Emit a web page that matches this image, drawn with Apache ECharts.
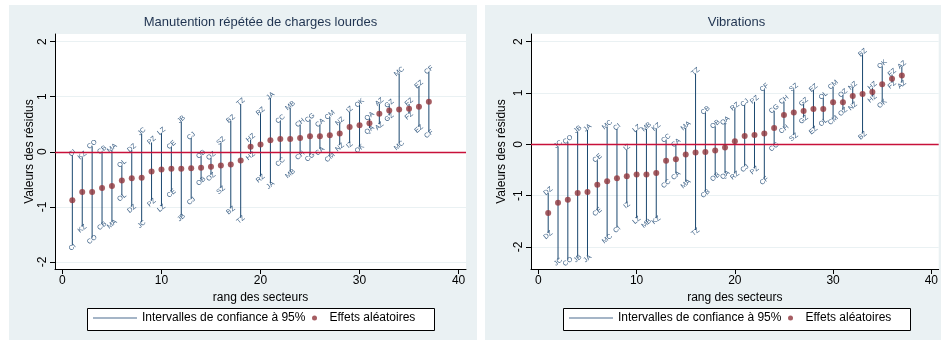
<!DOCTYPE html>
<html>
<head>
<meta charset="utf-8">
<script src="https://cdn.jsdelivr.net/npm/echarts@6/dist/echarts.min.js"></script>
<style>
html, body { margin: 0; padding: 0; background: #fff; }
#chart { width: 941px; height: 341px; }
</style>
</head>
<body>
<div id="chart"></div>
<script>
// rangs des secteurs (axe x)
const rangs = [1, 2, 3, 4, 5, 6, 7, 8, 9, 10, 11, 12, 13, 14, 15, 16, 17, 18, 19, 20,
  21, 22, 23, 24, 25, 26, 27, 28, 29, 30, 31, 32, 33, 34, 35, 36, 37];

// Manutention répétée de charges lourdes
const codesManut = ['CI', 'KZ', 'CO', 'CB', 'MA', 'OL', 'DZ', 'JC', 'PZ', 'LZ', 'CE', 'JB', 'CJ', 'OB', 'OZ', 'SZ', 'BZ', 'TZ', 'HZ', 'RZ',
  'JA', 'CC', 'MB', 'CH', 'CG', 'CA', 'CM', 'NZ', 'IZ', 'OK', 'QA', 'AZ', 'GZ', 'MC', 'FZ', 'EZ', 'CF'];
const effetsManut = [-0.88, -0.73, -0.73, -0.66, -0.62, -0.52, -0.48, -0.47, -0.36, -0.32, -0.31, -0.31, -0.30, -0.29, -0.27, -0.25, -0.23, -0.16, 0.09, 0.13,
  0.21, 0.23, 0.23, 0.25, 0.28, 0.28, 0.30, 0.33, 0.45, 0.48, 0.52, 0.69, 0.75, 0.77, 0.78, 0.82, 0.91];
const basManut = [-1.70, -1.36, -1.56, -1.31, -1.28, -0.79, -1.00, -1.28, -0.89, -0.99, -0.72, -1.16, -0.86, -0.50, -0.42, -0.66, -1.03, -1.20, -0.04, -0.45,
  -0.57, -0.15, -0.36, -0.03, -0.06, 0.05, -0.07, 0.12, 0.16, 0.09, 0.43, 0.50, 0.66, 0.15, 0.69, 0.45, 0.36];
const hautManut = [-0.06, -0.10, 0.10, 0.00, 0.03, -0.25, 0.03, 0.33, 0.17, 0.34, 0.09, 0.55, 0.25, -0.08, -0.11, 0.16, 0.56, 0.87, 0.22, 0.70,
  0.98, 0.56, 0.80, 0.49, 0.58, 0.49, 0.63, 0.52, 0.73, 0.85, 0.61, 0.87, 0.84, 1.42, 0.87, 1.19, 1.45];

// Vibrations
const codesVib = ['DZ', 'JC', 'CO', 'JB', 'JA', 'CE', 'MC', 'CI', 'IZ', 'LZ', 'MB', 'KZ', 'CC', 'CA', 'MA', 'TZ', 'CB', 'OB', 'QA', 'RZ',
  'CJ', 'PZ', 'CF', 'CG', 'CH', 'SZ', 'GZ', 'EZ', 'OL', 'CM', 'OZ', 'NZ', 'BZ', 'HZ', 'OK', 'FZ', 'AZ'];
const effetsVib = [-1.34, -1.14, -1.08, -0.95, -0.93, -0.79, -0.72, -0.66, -0.62, -0.59, -0.59, -0.56, -0.32, -0.29, -0.20, -0.16, -0.15, -0.12, -0.06, 0.06,
  0.16, 0.18, 0.21, 0.32, 0.57, 0.62, 0.65, 0.69, 0.69, 0.82, 0.82, 0.94, 0.98, 1.02, 1.17, 1.28, 1.34];
const basVib = [-1.73, -2.25, -2.25, -2.19, -2.19, -1.28, -1.80, -1.62, -1.15, -1.44, -1.50, -1.44, -0.73, -0.57, -0.73, -1.67, -0.92, -0.60, -0.56, -0.57,
  -0.43, -0.47, -0.67, -0.01, 0.33, 0.18, 0.52, 0.31, 0.47, 0.51, 0.67, 0.78, 0.21, 0.93, 0.83, 1.20, 1.20];
const hautVib = [-0.95, -0.04, 0.05, 0.25, 0.28, -0.31, 0.34, 0.30, -0.10, 0.27, 0.30, 0.30, 0.08, -0.01, 0.32, 1.38, 0.62, 0.35, 0.42, 0.70,
  0.77, 0.83, 1.07, 0.65, 0.83, 1.07, 0.79, 1.06, 0.91, 1.12, 0.96, 1.10, 1.75, 1.10, 1.52, 1.36, 1.51];

const yTicks = [-2, -1, 0, 1, 2];
const xTicks = [0, 10, 20, 30, 40];

const FONT = '"Liberation Sans", Arial, sans-serif';
const NAVY = '#1a476f';
const MAROON = '#90353b';
const BG = '#eaf1f3';
const CI_NAME = 'Intervalles de confiance à 95%';
const RE_NAME = 'Effets aléatoires';
const ROT = 40 * Math.PI / 180;

const chart = echarts.init(document.getElementById('chart'));

function ciRender(codes) {
  return function (params, api) {
    const x = api.value(0);
    const lo = api.coord([x, api.value(1)]);
    const hi = api.coord([x, api.value(2)]);
    const code = codes[params.dataIndex];
    const txt = { text: code, fontSize: 7, fontFamily: FONT, fill: '#3f6388', align: 'center', verticalAlign: 'middle' };
    return {
      type: 'group',
      children: [
        { type: 'line', shape: { x1: lo[0], y1: lo[1], x2: hi[0], y2: hi[1] }, style: { stroke: NAVY, lineWidth: 1 } },
        { type: 'text', x: hi[0], y: hi[1] - 2, rotation: ROT, style: txt },
        { type: 'text', x: lo[0], y: lo[1] + 2, rotation: ROT, style: Object.assign({}, txt) }
      ]
    };
  };
}

function makeX(gi) {
  return {
    type: 'value', gridIndex: gi, min: -0.75, max: 40.75,
    name: 'rang des secteurs', nameLocation: 'middle', nameGap: 20,
    nameTextStyle: { color: '#000', fontSize: 12, fontFamily: FONT },
    axisLine: { onZero: false, lineStyle: { color: '#000', width: 1 } },
    axisTick: { customValues: xTicks, length: 5, lineStyle: { color: '#000' } },
    axisLabel: { customValues: xTicks, margin: 6, color: '#000', fontSize: 12, fontFamily: FONT },
    splitLine: { show: false }
  };
}

function makeY(gi, min, max, gap) {
  return {
    type: 'value', gridIndex: gi, min: min, max: max,
    name: 'Valeurs des résidus', nameLocation: 'middle', nameGap: gap, nameRotate: 90,
    nameTextStyle: { color: '#000', fontSize: 12, fontFamily: FONT },
    axisLine: { show: true, onZero: false, lineStyle: { color: '#000', width: 1 } },
    axisTick: { show: true, customValues: yTicks, length: 5, lineStyle: { color: '#000' } },
    axisLabel: { customValues: yTicks, rotate: 90, margin: 6, color: '#000', fontSize: 12, fontFamily: FONT },
    splitLine: { show: true, lineStyle: { color: BG, width: 1 } }
  };
}

function panelSeries(gi, codes, effets, bas, haut) {
  return [
    {
      name: CI_NAME, type: 'custom', xAxisIndex: gi, yAxisIndex: gi,
      itemStyle: { color: NAVY },
      encode: { x: 0, y: [1, 2] },
      data: rangs.map((r, i) => [r, bas[i], haut[i]]),
      renderItem: ciRender(codes),
      silent: true
    },
    {
      name: RE_NAME, type: 'scatter', xAxisIndex: gi, yAxisIndex: gi,
      symbol: 'circle', symbolSize: 6, z: 5,
      itemStyle: { color: MAROON },
      data: rangs.map((r, i) => [r, effets[i]]),
      markLine: {
        silent: true, symbol: ['none', 'none'],
        label: { show: false },
        lineStyle: { color: '#c8103a', type: 'solid', width: 1.3 },
        data: [{ yAxis: 0 }]
      }
    }
  ];
}

function legendPair(dx) {
  const ts = { color: '#000', fontSize: 12, fontFamily: FONT };
  return [
    { left: 93 + dx, top: 312, padding: 0, itemWidth: 44, itemHeight: 1, selectedMode: false,
      data: [{ name: CI_NAME, icon: 'rect', itemStyle: { color: '#4d6d90' } }], textStyle: ts },
    { left: 312 + dx, top: 312, padding: 0, itemWidth: 20, itemHeight: 5, selectedMode: false,
      data: [{ name: RE_NAME, icon: 'circle' }], textStyle: ts }
  ];
}

const option = {
  animation: false,
  backgroundColor: '#fff',
  graphic: [
    { type: 'rect', z: -10, shape: { x: 9, y: 5, width: 468, height: 335 }, style: { fill: BG } },
    { type: 'rect', z: -10, shape: { x: 485, y: 5, width: 460, height: 335 }, style: { fill: BG } },
    { type: 'rect', z: 1, shape: { x: 87.5, y: 308.5, width: 347, height: 22 }, style: { fill: '#fff', stroke: '#000', lineWidth: 1 } },
    { type: 'rect', z: 1, shape: { x: 563.5, y: 308.5, width: 347, height: 22 }, style: { fill: '#fff', stroke: '#000', lineWidth: 1 } }
  ],
  title: [
    { text: 'Manutention répétée de charges lourdes', left: 260.5, top: 16, textAlign: 'center', padding: 0,
      textStyle: { color: '#1f3350', fontSize: 13, fontWeight: 'normal', fontFamily: FONT } },
    { text: 'Vibrations', left: 736.5, top: 16, textAlign: 'center', padding: 0,
      textStyle: { color: '#1f3350', fontSize: 13, fontWeight: 'normal', fontFamily: FONT } }
  ],
  legend: legendPair(0).concat(legendPair(476)),
  grid: [
    { left: 55, top: 34, width: 411, height: 235, show: true, backgroundColor: '#fff', borderWidth: 0 },
    { left: 531, top: 34, width: 411, height: 235, show: true, backgroundColor: '#fff', borderWidth: 0 }
  ],
  xAxis: [makeX(0), makeX(1)],
  yAxis: [makeY(0, -2.13, 2.14, 19), makeY(1, -2.43, 2.15, 23)],
  series: panelSeries(0, codesManut, effetsManut, basManut, hautManut)
    .concat(panelSeries(1, codesVib, effetsVib, basVib, hautVib))
};

chart.setOption(option);
</script>
</body>
</html>
